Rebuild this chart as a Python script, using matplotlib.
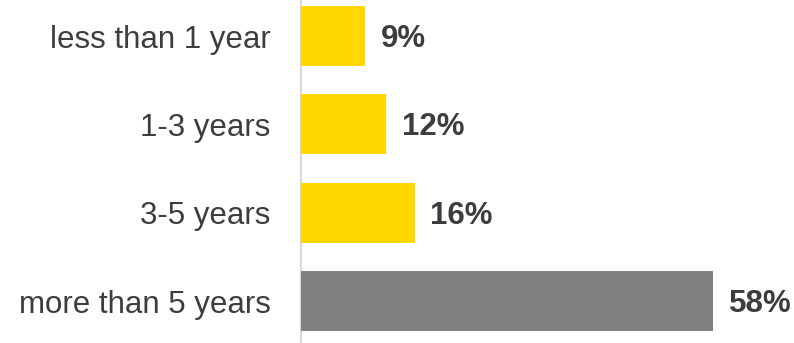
import matplotlib
matplotlib.use('Agg')
import matplotlib.pyplot as plt

categories = ['less than 1 year', '1-3 years', '3-5 years', 'more than 5 years']
shares = [9, 12, 16, 58]
bar_colors = ['#FFD800', '#FFD800', '#FFD800', '#808080']

plt.rcParams['font.family'] = ['Liberation Sans', 'DejaVu Sans']

fig = plt.figure(figsize=(7.94, 3.43), dpi=100)
ax = fig.add_axes([301 / 794, 0, 493 / 794, 1])

y = list(range(len(categories)))
ax.barh(y, shares, height=0.68, color=bar_colors, zorder=2)

ax.set_xlim(0, 69.4)
ax.set_ylim(3.475, -0.408)

# value labels, nudged down slightly so digits sit on the bar centre
for yi, v in zip(y, shares):
    ax.text(v + 2.2, yi + 0.035, '%d%%' % v, va='center', ha='left',
            fontsize=22.5, fontweight='bold', color='#3d3d3d')

ax.set_yticks(y)
ax.set_yticklabels(categories, fontsize=22.5, color='#3d3d3d')
ax.tick_params(axis='y', length=0, pad=22)
ax.set_xticks([])

for side in ['top', 'right', 'bottom']:
    ax.spines[side].set_visible(False)
ax.spines['left'].set_color('#d9d9d9')
ax.spines['left'].set_linewidth(1.5)
ax.spines['left'].set_zorder(1)

fig.savefig('out.png', dpi=100)
